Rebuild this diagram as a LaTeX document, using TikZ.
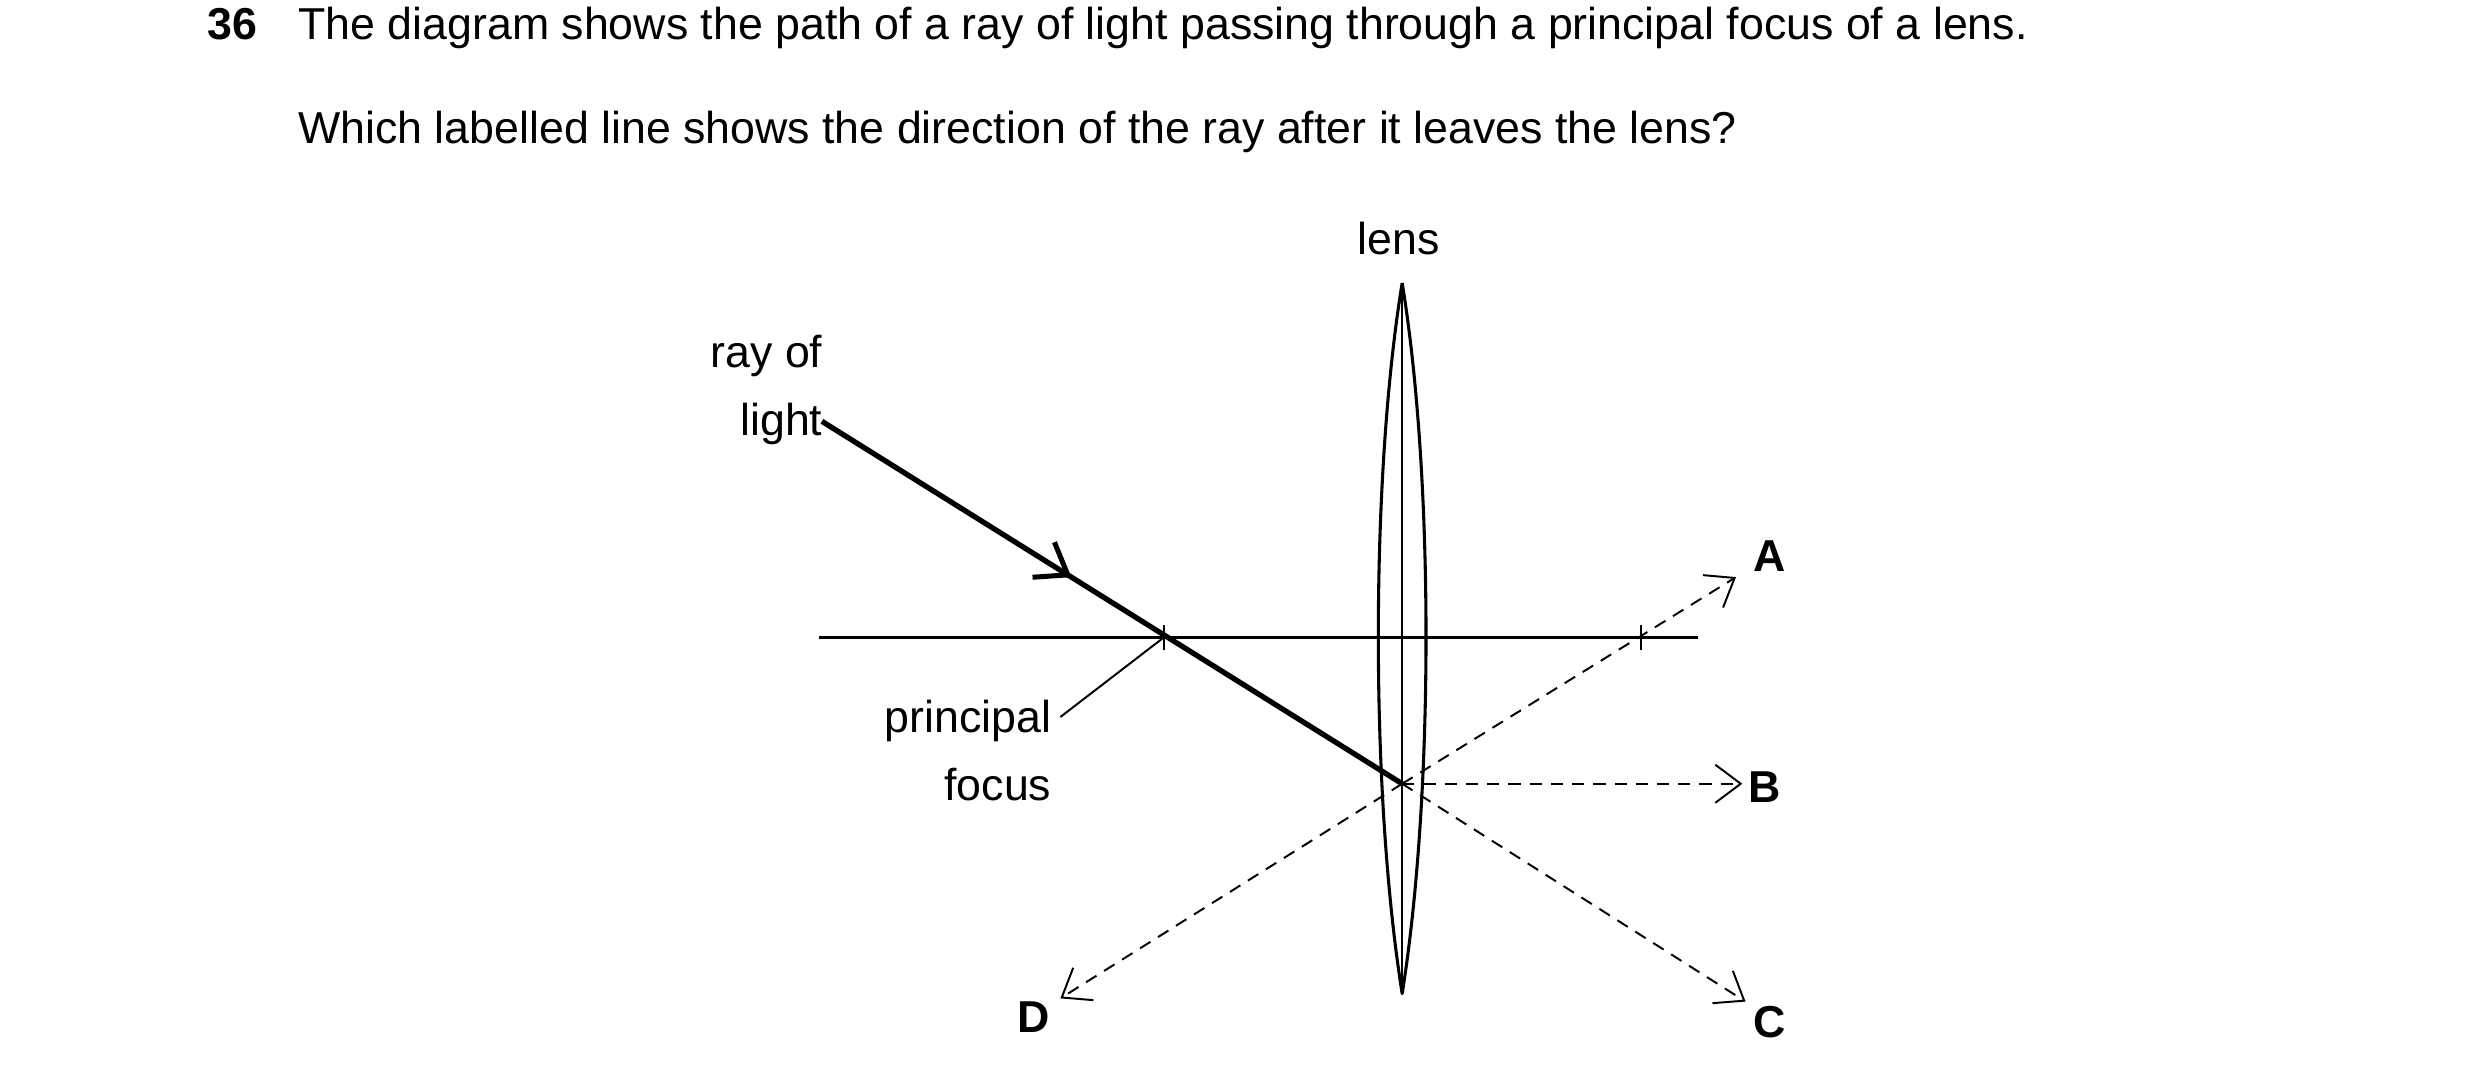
\documentclass[tikz,border=0pt]{standalone}
\usepackage{fontspec}
\setmainfont{Liberation Sans}
\usetikzlibrary{arrows.meta,positioning,decorations.markings}
\tikzset{
	txt/.style={font=\fontsize{8}{9.6}\selectfont, inner sep=0pt},
	lbl/.style={font=\fontsize{8}{9.6}\selectfont\bfseries, inner sep=0pt},
	opt/.style={dashed, dash pattern=on 2.2pt off 1.6pt, line width=0.35pt, -{Straight Barb[length=1.6mm,width=2.4mm]}},
	mid arrow/.style={decoration={markings,
			mark=at position #1 with {\arrow{Straight Barb[length=1.8mm,width=2.6mm,line width=0.9pt]};}},postaction={decorate}}
}
\begin{document}
\begin{tikzpicture}[x=1mm,y=-1mm,line join=round]
	\useasboundingbox (0,0) rectangle (156,67.5);
	% question
	\node[txt, anchor=base west, font=\fontsize{8}{9.6}\selectfont\bfseries] (num) at (13,2.5) {36};
	\node[txt, anchor=base west] (q1) at (18.7,2.5) {The diagram shows the path of a ray of light passing through a principal focus of a lens.};
	\node[txt, anchor=base west] (q2) at (18.7,9) {Which labelled line shows the direction of the ray after it leaves the lens?};
	% axis and lens
	\coordinate (axl) at (51.5,40.1);
	\coordinate (axr) at (106.8,40.1);
	\coordinate (ltop) at (88.2,17.8);
	\coordinate (lbot) at (88.2,62.5);
	\coordinate (F1) at (73.2,40.1);
	\coordinate (F2) at (103.2,40.1);
	\coordinate (P) at (88.2,49.3);
	\draw[line width=0.45pt] (axl) -- (axr);
	\draw[line width=0.55pt] (ltop) .. controls (86.2,30) and (86.2,50) .. (lbot)
		.. controls (90.2,50) and (90.2,30) .. (ltop);
	\draw[line width=0.35pt] (ltop) -- (lbot);
	\draw[line width=0.4pt] (F1) ++(0,-0.8) -- ++(0,1.6);
	\draw[line width=0.4pt] (F2) ++(0,-0.8) -- ++(0,1.6);
	\node[txt] (lens) at (88,15) {lens};
	% ray
	\coordinate (R0) at (51.7,26.5);
	\draw[line width=0.95pt, mid arrow=0.43] (R0) -- (P);
	\node[txt, align=right, anchor=east] (ray) at (51.8,24.5) {ray of\\[0.9mm]light};
	% focus label
	\node[txt, align=right, anchor=east] (foc) at (66.2,47.2) {principal\\[0.9mm]focus};
	\draw[line width=0.35pt] (66.7,45.1) -- (F1);
	% options
	\node[lbl] (A) at (111.3,35) {A};
	\node[lbl] (B) at (111,49.5) {B};
	\node[lbl] (C) at (111.3,64.3) {C};
	\node[lbl] (D) at (65,64) {D};
	\draw[opt] (P) -- (109.2,36.3);
	\draw[opt] (P) -- (109.6,49.3);
	\draw[opt] (P) -- (109.8,63);
	\draw[opt] (P) -- (66.7,62.8);
\end{tikzpicture}
\end{document}
